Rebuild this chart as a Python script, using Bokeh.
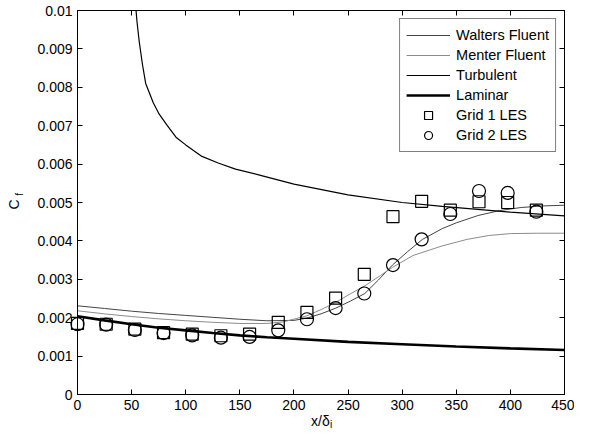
from math import pi
from bokeh.plotting import figure
from bokeh.models import FixedTicker, LinearAxis, Legend, LegendItem, Range1d
from bokeh.core.properties import value
from bokeh.embed import file_html
from bokeh.resources import INLINE

FONT = "Liberation Sans"

# ---- axes ----
xticks = [0, 50, 100, 150, 200, 250, 300, 350, 400, 450]
yticks = [0, 0.001, 0.002, 0.003, 0.004, 0.005, 0.006, 0.007, 0.008, 0.009, 0.01]
ytick_labels = ["0", "0.001", "0.002", "0.003", "0.004", "0.005",
                "0.006", "0.007", "0.008", "0.009", "0.01"]

# ---- LES data ----
les_x = [0, 26.5, 53, 79.5, 106, 132.5, 159, 185.5, 212, 238.5, 265, 291.5,
         318, 344.5, 371, 397.5, 424]
grid1_cf = [0.00185, 0.00183, 0.00170, 0.00161, 0.00157, 0.00153, 0.00157, 0.00188,
            0.00214, 0.00251, 0.00313, 0.00463, 0.00503, 0.00480, 0.00502, 0.00500, 0.00480]
grid2_cf = [0.00183, 0.00182, 0.00168, 0.00160, 0.00154, 0.00148, 0.00150, 0.00167,
            0.00196, 0.00225, 0.00263, 0.00337, 0.00404, 0.00470, 0.00530, 0.00525, 0.00476]

# ---- model curves ----
walters_x = [0, 25, 50, 75, 100, 125, 150, 175, 200, 212, 225, 238.7, 252, 265.5, 278,
             291, 305, 318.8, 337, 350, 370, 390, 410, 430, 450]
walters_cf = [0.00231, 0.00224, 0.00217, 0.00211, 0.00206, 0.00201, 0.00196, 0.00192,
              0.00193, 0.00199, 0.00210, 0.00225, 0.00243, 0.00263, 0.00298, 0.00337,
              0.00372, 0.00404, 0.00432, 0.00447, 0.00466, 0.00479, 0.00487, 0.00491, 0.00493]

menter_x = [0, 25, 50, 75, 100, 125, 150, 175, 190, 212, 225, 238.7, 252, 265.5, 280,
            291, 310, 337, 360, 380, 400, 425, 450]
menter_cf = [0.00218, 0.00210, 0.00203, 0.00197, 0.00192, 0.00188, 0.00185, 0.00185,
             0.00189, 0.00205, 0.00221, 0.00240, 0.00262, 0.00283, 0.00310, 0.00331,
             0.00362, 0.00387, 0.00404, 0.00414, 0.00419, 0.00420, 0.00420]

turb_x = [53.5, 55, 57, 60, 63, 70, 75.5, 83, 91, 100, 115, 130, 146, 170, 200,
          250, 300, 337, 400, 450]
turb_cf = [0.0102, 0.0097, 0.0092, 0.0086, 0.0081, 0.0076, 0.0073, 0.0070, 0.0067,
           0.0065, 0.0062, 0.00603, 0.00587, 0.0057, 0.00548, 0.0052, 0.0050, 0.0049,
           0.00475, 0.00465]

lam_x = [0, 25, 50, 75, 100, 125, 150, 175, 200, 250, 300, 350, 400, 450]
lam_cf = [0.00204, 0.00193, 0.00183, 0.00174, 0.00167, 0.00160, 0.00154, 0.00149,
          0.00145, 0.00137, 0.00131, 0.00125, 0.00120, 0.00116]

p = figure(width=574, height=429, x_range=Range1d(0, 450), y_range=Range1d(0, 0.01),
           output_backend="svg", toolbar_location=None,
           x_axis_type=None, y_axis_type=None,
           min_border_left=77, min_border_right=10, min_border_top=10, min_border_bottom=35)
p.outline_line_color = "black"
p.outline_line_width = 1
p.background_fill_color = "white"
p.border_fill_color = "white"


def make_axis(ticks, labels=True):
    ax = LinearAxis(ticker=FixedTicker(ticks=ticks))
    ax.major_tick_in = 5
    ax.major_tick_out = 0
    ax.minor_tick_line_color = None
    ax.axis_line_color = "black"
    ax.major_tick_line_color = "black"
    ax.major_label_text_font = FONT
    ax.major_label_text_color = "black"
    ax.major_label_text_font_size = "14px"
    if labels:
        ax.major_label_standoff = 5
    else:
        ax.major_label_standoff = 0
        ax.major_label_overrides = {t: "" for t in ticks}
    return ax


xb = make_axis(xticks)
yl = make_axis(yticks)
yl.major_label_overrides = {t: s for t, s in zip(yticks, ytick_labels)}
p.add_layout(xb, "below")
p.add_layout(yl, "left")
p.add_layout(make_axis(xticks, False), "above")
p.add_layout(make_axis(yticks, False), "right")

r_walters = p.line(walters_x, walters_cf, line_color="#444444", line_width=1)
r_menter = p.line(menter_x, menter_cf, line_color="#8c8c8c", line_width=1)
r_turb = p.line(turb_x, turb_cf, line_color="black", line_width=1.2)
r_lam = p.line(lam_x, lam_cf, line_color="black", line_width=2.6)
r_g1 = p.scatter(les_x, grid1_cf, marker="square", size=12, fill_color=None,
                 line_color="black", line_width=1.2)
r_g2 = p.scatter(les_x, grid2_cf, marker="circle", size=13, fill_color=None,
                 line_color="black", line_width=1.2)
r_g1.level = "overlay"
r_g2.level = "overlay"

legend = Legend(items=[
    LegendItem(label="Walters Fluent", renderers=[r_walters]),
    LegendItem(label="Menter Fluent", renderers=[r_menter]),
    LegendItem(label="Turbulent", renderers=[r_turb]),
    LegendItem(label="Laminar", renderers=[r_lam]),
    LegendItem(label="Grid 1 LES", renderers=[r_g1]),
    LegendItem(label="Grid 2 LES", renderers=[r_g2]),
], location="top_right")
legend.border_line_color = "black"
legend.border_line_width = 1
legend.background_fill_color = "white"
legend.background_fill_alpha = 1
legend.padding = 6
legend.spacing = 0
legend.label_height = 20
legend.glyph_height = 20
legend.glyph_width = 44
legend.label_standoff = 6
legend.margin = 8
legend.label_text_font = FONT
legend.label_text_font_size = "14.5px"
legend.label_text_color = "black"
p.add_layout(legend)


# axis titles as text glyphs on the (unclipped) overlay level
def title_text(x, y, txt, size, angle=0.0, align="left", baseline="alphabetic"):
    r = p.text(x=[x], y=[y], text=[txt], angle=angle, text_font=value(FONT),
               text_font_size=value(size), text_align=align, text_baseline=baseline,
               text_color="black")
    r.level = "overlay"
    return r


title_text(215.8, -0.000703, "x/δ", "14px")
title_text(233.3, -0.000781, "i", "10px")
title_text(-59.1, 0.00495, "C", "14px", angle=pi / 2, align="center", baseline="middle")
title_text(-53.6, 0.00521, "f", "10px", angle=pi / 2, align="center", baseline="middle")

open("out.html", "w").write(file_html(p, INLINE))
